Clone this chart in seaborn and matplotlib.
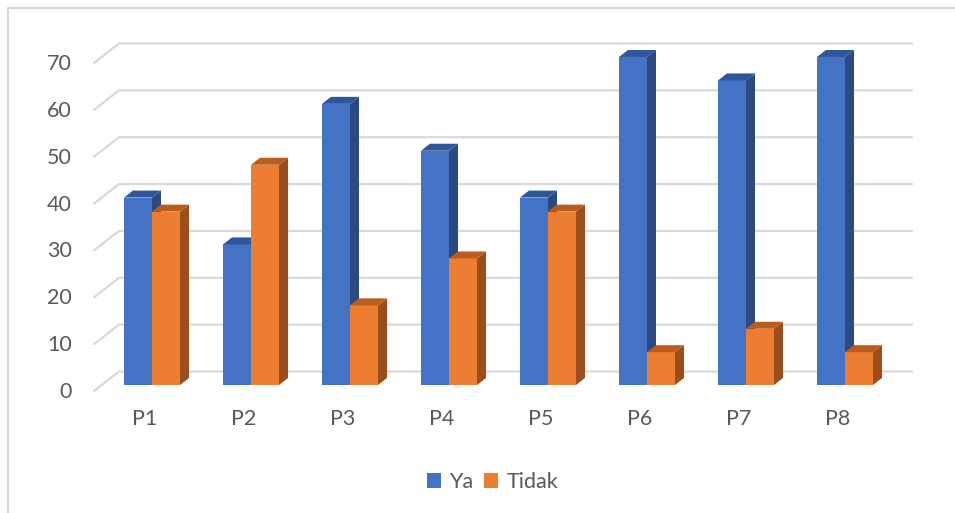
import matplotlib
matplotlib.use("Agg")
import matplotlib.pyplot as plt
import pandas as pd
import seaborn as sns
from matplotlib.lines import Line2D
from matplotlib.patches import Patch, Polygon
from matplotlib.transforms import ScaledTranslation

categories = ["P1", "P2", "P3", "P4", "P5", "P6", "P7", "P8"]
ya = [40, 30, 60, 50, 40, 70, 65, 70]
tidak = [37, 47, 17, 27, 37, 7, 12, 7]
series = ["Ya", "Tidak"]
yticks = [0, 10, 20, 30, 40, 50, 60, 70]

FRONT = {"Ya": "#4472C4", "Tidak": "#ED7D31"}
TOP = {"Ya": "#30569A", "Tidak": "#BA5E20"}
SIDE = {"Ya": "#2B4A80", "Tidak": "#9A4E1D"}
TEXT = "#595959"
GRID = "#D9D9D9"

df = pd.DataFrame({
    "cat": categories * 2,
    "val": ya + tidak,
    "series": ["Ya"] * len(ya) + ["Tidak"] * len(tidak),
})

sns.set_theme(style="white")
plt.rcParams["font.family"] = ["Lato", "DejaVu Sans"]

W, H = 955, 513
fig = plt.figure(figsize=(W / 100, H / 100), dpi=100)
ax = fig.add_axes([102.5 / W, 128 / H, 792 / W, 328 / H])

sns.barplot(data=df, x="cat", y="val", hue="series", hue_order=series,
            palette=FRONT, width=0.566, saturation=1, legend=False,
            ax=ax, zorder=2)
ax.set_xlim(-0.5, 7.5)
ax.set_ylim(0, 70)

# pixel -> data helpers
px_x = 792 / 8
px_y = 328 / 70
bdx, bdy = 9 / px_x, 7 / px_y          # bar depth

# 3D faces for each bar
for i, (name, cont) in enumerate(zip(series, ax.containers)):
    for bar in cont:
        bar.set_zorder(2 + i)
        bar.set_edgecolor("none")
        x0 = bar.get_x()
        x1 = x0 + bar.get_width()
        h = bar.get_height()
        side = Polygon([(x1, 0), (x1 + bdx, bdy), (x1 + bdx, h + bdy), (x1, h)],
                       closed=True, fc=SIDE[name], ec="none",
                       zorder=2.5 + i, clip_on=False)
        top = Polygon([(x0, h), (x0 + bdx, h + bdy), (x1 + bdx, h + bdy), (x1, h)],
                      closed=True, fc=TOP[name], ec="none",
                      zorder=2.5 + i, clip_on=False)
        ax.add_patch(side)
        ax.add_patch(top)

# back wall gridlines with floor diagonals
xf = -0.5 - 8.5 / px_x
xb0 = -0.5 + 16.5 / px_x
xb1 = 7.5 + 17.5 / px_x
df_off = -6 / px_y
db_off = 13.5 / px_y
for v in yticks:
    ax.add_line(Line2D([xf, xb0, xb1], [v + df_off, v + db_off, v + db_off],
                       color=GRID, lw=1.6, zorder=0, clip_on=False))

for s in ax.spines.values():
    s.set_visible(False)
ax.grid(False)
ax.set_xlabel("")
ax.set_ylabel("")
ax.set_yticks(yticks)
ax.tick_params(axis="y", length=0, pad=22, labelsize=15.5, labelcolor=TEXT)
ax.tick_params(axis="x", length=0, pad=17, labelsize=15.5, labelcolor=TEXT)
for lab in ax.get_yticklabels():
    lab.set_transform(lab.get_transform() + ScaledTranslation(0, -0.05, fig.dpi_scale_trans))
for lab in ax.get_xticklabels():
    lab.set_transform(lab.get_transform() + ScaledTranslation(-0.07, 0, fig.dpi_scale_trans))

handles = [Patch(facecolor=FRONT[s], edgecolor="none", label=s) for s in series]
fig.legend(handles=handles, loc="center", bbox_to_anchor=(0.516, 0.06), ncol=2,
           frameon=False, fontsize=15.5, labelcolor=TEXT, handlelength=0.65,
           handleheight=0.65, handletextpad=0.4, columnspacing=0.5)

# chart border (top and left edges visible)
fig.add_artist(Line2D([7.5 / W, 7.5 / W, 1], [0, 1 - 7.5 / H, 1 - 7.5 / H],
                      transform=fig.transFigure, color=GRID, lw=1.5))

fig.savefig("out.png", dpi=100, facecolor="white")
